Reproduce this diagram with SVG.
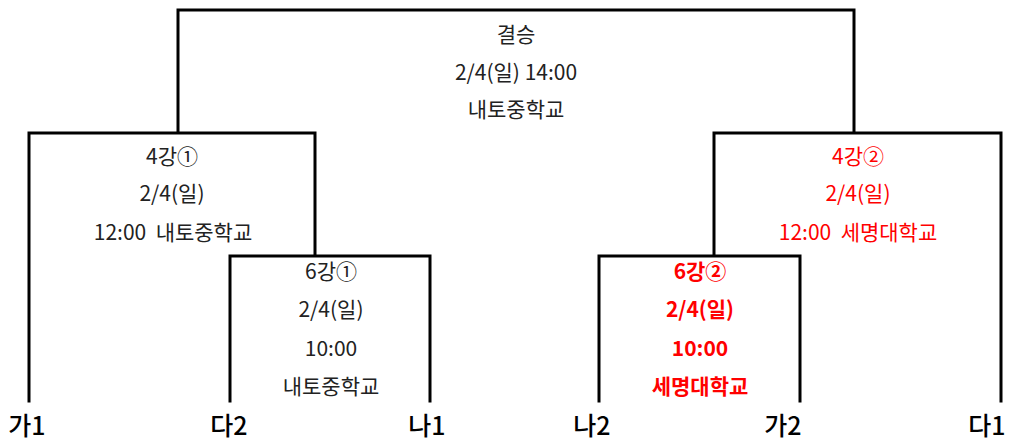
<svg xmlns="http://www.w3.org/2000/svg" width="1009" height="440" viewBox="0 0 1009 440">
<style>
.ln{fill:none;stroke:#000;stroke-width:3;stroke-linecap:square;stroke-linejoin:miter}
.t{font-family:"Noto Sans CJK KR","Noto Sans",sans-serif;font-size:21px;text-anchor:middle;fill:#222}
.r{fill:#ff0000}
.b{font-weight:bold}
.tm{font-family:"Noto Sans CJK KR","Noto Sans",sans-serif;font-size:25px;text-anchor:middle;fill:#000;font-weight:500}
</style>
<rect width="1009" height="440" fill="#fff"/>
<g id="connectors">
<path class="ln" d="M178,132 V10 H854 V132"/>
<path class="ln" d="M29,401 V133 H315 V255"/>
<path class="ln" d="M230,401 V256 H430 V401"/>
<path class="ln" d="M714,255 V133 H1001 V401"/>
<path class="ln" d="M599,401 V256 H800 V401"/>
</g>
<g id="final">
<text class="t" x="516" y="42">결승</text>
<text class="t" x="516" y="80">2/4(일) 14:00</text>
<text class="t" x="516" y="117">내토중학교</text>
</g>
<g id="semi1">
<text class="t" x="172" y="164">4강①</text>
<text class="t" x="172" y="201">2/4(일)</text>
<text class="t" x="173" y="240">12:00&#160;&#160;내토중학교</text>
</g>
<g id="quarter1">
<text class="t" x="331" y="279">6강①</text>
<text class="t" x="331" y="317">2/4(일)</text>
<text class="t" x="331" y="356">10:00</text>
<text class="t" x="331" y="394">내토중학교</text>
</g>
<g id="semi2">
<text class="t r" x="858" y="164">4강②</text>
<text class="t r" x="858" y="201">2/4(일)</text>
<text class="t r" x="858" y="240">12:00&#160;&#160;세명대학교</text>
</g>
<g id="quarter2">
<text class="t r b" x="700" y="279">6강②</text>
<text class="t r b" x="700" y="317">2/4(일)</text>
<text class="t r b" x="700" y="356">10:00</text>
<text class="t r b" x="700" y="394">세명대학교</text>
</g>
<g id="team-ga1"><text class="tm" x="27" y="435">가1</text></g>
<g id="team-da2"><text class="tm" x="229" y="435">다2</text></g>
<g id="team-na1"><text class="tm" x="427" y="435">나1</text></g>
<g id="team-na2"><text class="tm" x="592" y="435">나2</text></g>
<g id="team-ga2"><text class="tm" x="783" y="435">가2</text></g>
<g id="team-da1"><text class="tm" x="987" y="435">다1</text></g>
</svg>
